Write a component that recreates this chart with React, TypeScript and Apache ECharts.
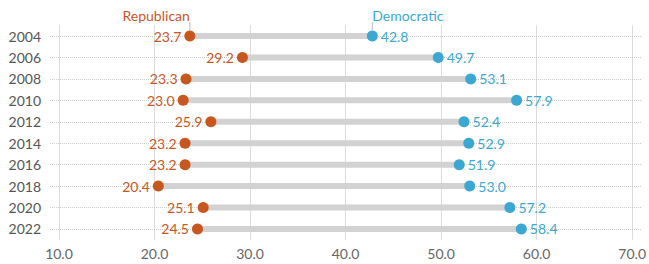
import React, { useEffect, useRef } from "react";
import * as echarts from "echarts";

const years = ["2004", "2006", "2008", "2010", "2012", "2014", "2016", "2018", "2020", "2022"];
const republican = [23.7, 29.2, 23.3, 23.0, 25.9, 23.2, 23.2, 20.4, 25.1, 24.5];
const democratic = [42.8, 49.7, 53.1, 57.9, 52.4, 52.9, 51.9, 53.0, 57.2, 58.4];
const xTicks = [10, 20, 30, 40, 50, 60, 70];

const REP = "#c8561f";
const DEM = "#3aa8d2";
const FONT = "Lato";

export default function App() {
  const ref = useRef<HTMLDivElement>(null);
  useEffect(() => {
    document.body.style.margin = "0";
    const chart = echarts.init(ref.current!, null, { renderer: "svg" });
    const headers = [
      [republican[0], years[0], "Republican", "right", REP],
      [democratic[0], years[0], "Democratic", "left", DEM],
    ];
    chart.setOption({
      animation: false,
      grid: { left: 50, right: 4, top: 25.3, bottom: 24.3, containLabel: false },
      xAxis: {
        type: "value",
        min: 10 - 9 / 9.6,
        max: 70 + 10 / 9.6,
        axisLine: { show: false },
        axisTick: { show: false },
        splitLine: { show: false },
        axisLabel: {
          customValues: xTicks,
          formatter: (v: number) => v.toFixed(1),
          color: "#666",
          fontSize: 14,
          fontFamily: FONT,
          margin: 7,
        },
      },
      yAxis: {
        type: "category",
        data: years,
        inverse: true,
        axisLine: { show: false },
        axisTick: { show: false },
        splitLine: { show: false },
        axisLabel: { color: "#555", fontSize: 14, fontFamily: FONT, margin: 9 },
      },
      series: [
        {
          type: "custom",
          z: 1,
          silent: true,
          data: [],
          renderItem: () => null,
          markLine: {
            z: 1,
            silent: true,
            symbol: "none",
            label: { show: false },
            animation: false,
            data: [
              ...xTicks.map((v) => ({ xAxis: v, lineStyle: { color: "#dcdcdc", type: "solid", width: 1 } })),
              ...years.map((y) => ({ yAxis: y, lineStyle: { color: "#cccccc", type: "dotted", width: 1 } })),
            ],
          },
        },
        {
          type: "custom",
          z: 2,
          silent: true,
          data: years.map((y, i) => [republican[i], democratic[i], y]),
          encode: { x: [0, 1], y: 2 },
          renderItem: (params: any, api: any) => {
            const p1 = api.coord([api.value(0), api.value(2)]);
            const p2 = api.coord([api.value(1), api.value(2)]);
            return {
              type: "line",
              shape: { x1: p1[0], y1: p1[1], x2: p2[0], y2: p2[1] },
              style: { stroke: "#d2d2d2", lineWidth: 6 },
            };
          },
        },
        {
          type: "custom",
          z: 2,
          silent: true,
          data: headers,
          encode: { x: 0, y: 1 },
          renderItem: (params: any, api: any) => {
            const d = headers[params.dataIndex];
            const p = api.coord([d[0], d[1]]);
            return {
              type: "group",
              children: [
                {
                  type: "line",
                  shape: { x1: p[0], y1: p[1] - 14, x2: p[0], y2: p[1] - 6 },
                  style: { stroke: "#bbb", lineWidth: 1 },
                },
                {
                  type: "text",
                  x: p[0],
                  y: p[1] - 21,
                  style: {
                    text: d[2],
                    fill: d[4],
                    font: `14px ${FONT}`,
                    align: d[3],
                    verticalAlign: "middle",
                  },
                },
              ],
            };
          },
        },
        {
          type: "scatter",
          z: 3,
          symbolSize: 11,
          data: years.map((y, i) => [republican[i], y]),
          itemStyle: { color: REP, opacity: 1 },
          label: {
            show: true,
            position: "left",
            distance: 3,
            formatter: (p: any) => p.value[0].toFixed(1),
            color: REP,
            fontSize: 14,
            fontFamily: FONT,
          },
        },
        {
          type: "scatter",
          z: 3,
          symbolSize: 11,
          data: years.map((y, i) => [democratic[i], y]),
          itemStyle: { color: DEM, opacity: 1 },
          label: {
            show: true,
            position: "right",
            distance: 3,
            formatter: (p: any) => p.value[0].toFixed(1),
            color: DEM,
            fontSize: 14,
            fontFamily: FONT,
          },
        },
      ],
    });
    return () => chart.dispose();
  }, []);
  return <div ref={ref} style={{ width: 649, height: 264 }} />;
}
